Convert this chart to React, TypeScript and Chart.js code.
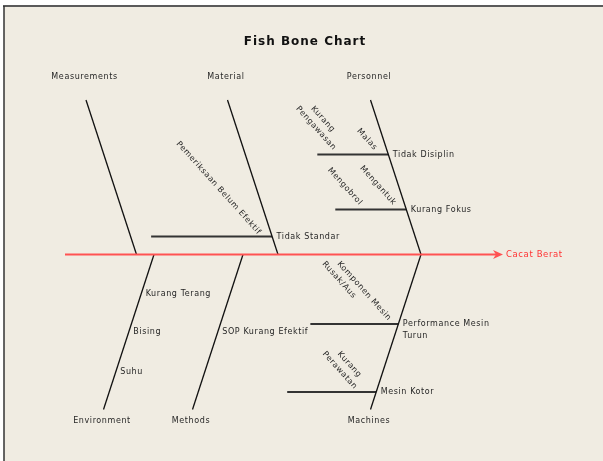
import React, { useEffect, useRef } from "react";
import { Chart, registerables } from "chart.js";

Chart.register(...registerables);

// ---------- content ----------
const chartTitle = "Fish Bone Chart";
const effectLabel = "Cacat Berat";
const topCategories = ["Measurements", "Material", "Personnel"];
const bottomCategories = ["Environment", "Methods", "Machines"];

const measurementsCauses: string[] = [];
const materialCauses = ["Tidak Standar"];
const materialSubCauses = [["Pemeriksaan Belum Efektif"]];
const personnelCauses = ["Tidak Disiplin", "Kurang Fokus"];
const personnelSubCauses = [
  ["Kurang Pengawasan", "Malas"],
  ["Mengobrol", "Mengantuk"],
];
const environmentCauses = ["Kurang Terang", "Bising", "Suhu"];
const methodsCauses = ["SOP Kurang Efektif"];
const machinesCauses = ["Performance Mesin Turun", "Mesin Kotor"];
const machinesSubCauses = [["Komponen Mesin Rusak/Aus"], ["Kurang Perawatan"]];

// ---------- layout (diagram units, mapped through the chart scales) ----------
const W = 603;
const H = 461;
const spineY = 254.5;
const spineStartX = 65;
const spineEndX = 496;
const arrowTipX = 503;
const boneTopY = 100;
const boneBottomY = 409.5;
const boneSlant = 50.5;
const topBoneX = [136.5, 278, 421];
const bottomBoneX = [154, 243, 421];
// distance of each cause from the spine
const measurementsDepth: number[] = [];
const materialDepth = [18];
const personnelDepth = [100, 45];
const environmentDepth = [39.5, 77.5, 117.5];
const methodsDepth = [77.5];
const machinesDepth = [69.5, 137.5];
// horizontal cause-line lengths (0 = label only)
const materialLen = [121];
const personnelLen = [71, 71];
const machinesLen = [88, 89];
// sub-cause anchors relative to the junction of cause line and bone
const materialSubPos = [[{ dx: -14, dy: -1.5, wrap: 200 }]];
const personnelSubPos = [
  [{ dx: -55, dy: -4, wrap: 60 }, { dx: -14, dy: -4, wrap: 200 }],
  [{ dx: -47, dy: -4, wrap: 200 }, { dx: -13, dy: -4, wrap: 200 }],
];
const machinesSubPos = [
  [{ dx: -10, dy: -3, wrap: 80 }],
  [{ dx: -22, dy: -2.5, wrap: 50 }],
];
const subAngle = (48 * Math.PI) / 180;
const subLineStep = 15;

const FONT = "'DejaVu Sans', sans-serif";
const TEXT = "#262626";
const RED_LINE = "#ff5252";
const RED_TEXT = "#ff3333";
const BG = "#f0ece2";

type Cause = {
  label: string;
  depth: number;
  len: number;
  subs: string[];
  subPos: { dx: number; dy: number; wrap: number }[];
};
type Bone = { name: string; spineX: number; top: boolean; causes: Cause[] };

function makeCauses(
  labels: string[],
  depth: number[],
  len: number[] | null,
  subs: string[][] | null,
  subPos: { dx: number; dy: number; wrap: number }[][] | null
): Cause[] {
  return labels.map((label, i) => ({
    label,
    depth: depth[i],
    len: len ? len[i] : 0,
    subs: subs ? subs[i] : [],
    subPos: subPos ? subPos[i] : [],
  }));
}

const bones: Bone[] = [
  { name: topCategories[0], spineX: topBoneX[0], top: true, causes: makeCauses(measurementsCauses, measurementsDepth, null, null, null) },
  { name: topCategories[1], spineX: topBoneX[1], top: true, causes: makeCauses(materialCauses, materialDepth, materialLen, materialSubCauses, materialSubPos) },
  { name: topCategories[2], spineX: topBoneX[2], top: true, causes: makeCauses(personnelCauses, personnelDepth, personnelLen, personnelSubCauses, personnelSubPos) },
  { name: bottomCategories[0], spineX: bottomBoneX[0], top: false, causes: makeCauses(environmentCauses, environmentDepth, null, null, null) },
  { name: bottomCategories[1], spineX: bottomBoneX[1], top: false, causes: makeCauses(methodsCauses, methodsDepth, null, null, null) },
  { name: bottomCategories[2], spineX: bottomBoneX[2], top: false, causes: makeCauses(machinesCauses, machinesDepth, machinesLen, machinesSubCauses, machinesSubPos) },
];

function boneEndY(b: Bone) {
  return b.top ? boneTopY : boneBottomY;
}
function boneXAt(b: Bone, depth: number) {
  const span = Math.abs(boneEndY(b) - spineY);
  return b.spineX - (boneSlant * depth) / span;
}
function causeY(b: Bone, depth: number) {
  return b.top ? spineY - depth : spineY + depth;
}

function wrapText(ctx: CanvasRenderingContext2D, text: string, maxW: number): string[] {
  const words = text.split(" ");
  const lines: string[] = [];
  let cur = "";
  for (const w of words) {
    const t = cur ? cur + " " + w : w;
    if (cur && ctx.measureText(t).width > maxW) {
      lines.push(cur);
      cur = w;
    } else cur = t;
  }
  if (cur) lines.push(cur);
  return lines;
}

const textPlugin = {
  id: "fishboneText",
  beforeDraw(chart: any) {
    const ctx: CanvasRenderingContext2D = chart.ctx;
    ctx.save();
    ctx.fillStyle = "#ffffff";
    ctx.fillRect(0, 0, W, H);
    ctx.fillStyle = BG;
    ctx.fillRect(4, 6, W - 4, H - 6);
    ctx.strokeStyle = "#5a5a5a";
    ctx.lineWidth = 2;
    ctx.beginPath();
    ctx.moveTo(3, 6);
    ctx.lineTo(W, 6);
    ctx.stroke();
    ctx.strokeStyle = "#333333";
    ctx.lineWidth = 1.5;
    ctx.beginPath();
    ctx.moveTo(4, 6);
    ctx.lineTo(4, H);
    ctx.stroke();
    ctx.restore();
  },
  afterDatasetsDraw(chart: any) {
    const ctx: CanvasRenderingContext2D = chart.ctx;
    const xs = chart.scales.x;
    const ys = chart.scales.y;
    const px = (v: number) => xs.getPixelForValue(v);
    const py = (v: number) => ys.getPixelForValue(v);
    ctx.save();
    // arrow head
    ctx.fillStyle = RED_LINE;
    ctx.beginPath();
    ctx.moveTo(px(arrowTipX), py(spineY));
    ctx.lineTo(px(arrowTipX - 10), py(spineY - 4.5));
    ctx.lineTo(px(arrowTipX - 7), py(spineY));
    ctx.lineTo(px(arrowTipX - 10), py(spineY + 4.5));
    ctx.closePath();
    ctx.fill();

    // title
    (ctx as any).letterSpacing = "1px";
    ctx.font = `bold 12px ${FONT}`;
    ctx.fillStyle = "#111111";
    ctx.textAlign = "center";
    ctx.textBaseline = "middle";
    ctx.fillText(chartTitle, px(305), py(42));

    // effect
    ctx.font = `8.5px ${FONT}`;
    (ctx as any).letterSpacing = "0.6px";
    ctx.fillStyle = RED_TEXT;
    ctx.textAlign = "left";
    ctx.fillText(effectLabel, px(arrowTipX + 3), py(spineY + 0.5));

    ctx.font = `8px ${FONT}`;
    (ctx as any).letterSpacing = "0.6px";
    ctx.fillStyle = TEXT;
    for (const b of bones) {
      // category label
      ctx.textAlign = "center";
      ctx.textBaseline = "middle";
      const endX = b.spineX - boneSlant;
      ctx.fillText(b.name, px(endX - 1.5), py(b.top ? 77 : 421));
      for (const c of b.causes) {
        const cy = causeY(b, c.depth);
        const bx = boneXAt(b, c.depth);
        ctx.textAlign = "left";
        ctx.textBaseline = "middle";
        const lines = wrapText(ctx, c.label, 95);
        lines.forEach((l, i) => ctx.fillText(l, px(bx + 4.5), py(cy + i * 12)));
        // sub causes (rotated)
        c.subs.forEach((s, si) => {
          const pos = c.subPos[si];
          const sl = wrapText(ctx, s, pos.wrap);
          const widths = sl.map((l) => ctx.measureText(l).width);
          let k = 0;
          widths.forEach((w, i) => {
            if (w > widths[k]) k = i;
          });
          const ax = px(bx + pos.dx);
          const ay = py(cy + pos.dy);
          const cos = Math.cos(subAngle);
          const sin = Math.sin(subAngle);
          const skx = ax - widths[k] * cos;
          const sky = ay - widths[k] * sin;
          const s0x = skx + k * subLineStep;
          sl.forEach((l, i) => {
            ctx.save();
            ctx.translate(s0x - i * subLineStep, sky);
            ctx.rotate(subAngle);
            ctx.textAlign = "left";
            ctx.textBaseline = "alphabetic";
            ctx.fillText(l, 0, 0);
            ctx.restore();
          });
        });
      }
    }
    ctx.restore();
  },
};

export default function App() {
  const ref = useRef<HTMLCanvasElement | null>(null);
  useEffect(() => {
    if (!ref.current) return;
    const datasets: any[] = [];
    // spine
    datasets.push({
      data: [
        { x: spineStartX, y: spineY },
        { x: spineEndX, y: spineY },
      ],
      borderColor: RED_LINE,
      borderWidth: 2,
    });
    for (const b of bones) {
      datasets.push({
        data: [
          { x: b.spineX - boneSlant, y: boneEndY(b) },
          { x: b.spineX, y: spineY },
        ],
        borderColor: "#111111",
        borderWidth: 1.3,
      });
      for (const c of b.causes) {
        if (!c.len) continue;
        const cy = causeY(b, c.depth);
        const bx = boneXAt(b, c.depth);
        datasets.push({
          data: [
            { x: bx - c.len, y: cy },
            { x: bx, y: cy },
          ],
          borderColor: "#333333",
          borderWidth: 2,
        });
      }
    }
    datasets.forEach((d) => {
      d.showLine = true;
      d.pointRadius = 0;
      d.pointHoverRadius = 0;
      d.fill = false;
      d.tension = 0;
    });
    const chart = new Chart(ref.current, {
      type: "scatter",
      data: { datasets },
      options: {
        animation: false,
        responsive: false,
        maintainAspectRatio: false,
        devicePixelRatio: 1,
        events: [],
        layout: { padding: 0 },
        plugins: { legend: { display: false }, tooltip: { enabled: false }, title: { display: false } },
        scales: {
          x: { type: "linear", min: 0, max: W, display: false },
          y: { type: "linear", min: 0, max: H, reverse: true, display: false },
        },
      },
      plugins: [textPlugin],
    } as any);
    return () => chart.destroy();
  }, []);
  return (
    <div style={{ position: "fixed", left: 0, top: 0, width: W, height: H }}>
      <canvas ref={ref} width={W} height={H} style={{ display: "block", width: W, height: H }} />
    </div>
  );
}
